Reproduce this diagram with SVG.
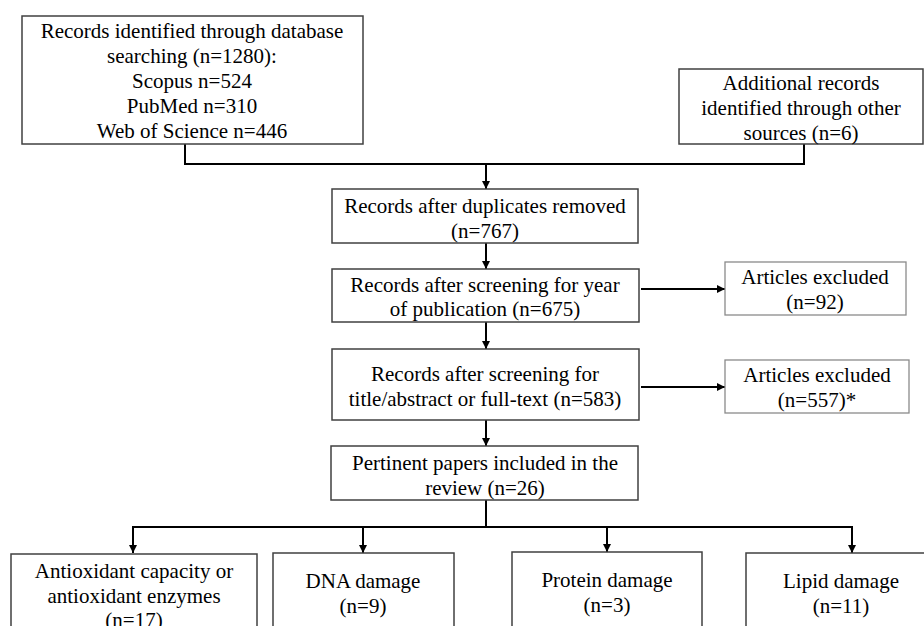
<svg xmlns="http://www.w3.org/2000/svg" width="924" height="626" viewBox="0 0 924 626">
<style>
.box{fill:#fff;stroke:#404040;stroke-width:1.5}
.lbox{fill:#fff;stroke:#8a8a8a;stroke-width:1.3}
.t{font-family:"Liberation Serif","Times New Roman",serif;font-size:21px;fill:#000;text-anchor:middle}
.c{fill:none;stroke:#000;stroke-width:2}
</style>
<defs>
<marker id="ah" viewBox="0 0 10 10" refX="10" refY="5" markerWidth="4" markerHeight="4" orient="auto" markerUnits="strokeWidth">
<path d="M0,0 L10,5 L0,10 z" fill="#000"/>
</marker>
</defs>
<rect width="924" height="626" fill="#fff"/>
<g id="connectors">
<path class="c" d="M185,144 V164 H804 V144"/>
<path class="c" d="M486,164 V189" marker-end="url(#ah)"/>
<path class="c" d="M486,243 V269" marker-end="url(#ah)"/>
<path class="c" d="M486,322 V349" marker-end="url(#ah)"/>
<path class="c" d="M486,420 V446" marker-end="url(#ah)"/>
<path class="c" d="M641,289 H725" marker-end="url(#ah)"/>
<path class="c" d="M641,387 H725" marker-end="url(#ah)"/>
<path class="c" d="M486,500 V527"/>
<path class="c" d="M133,527 H852"/>
<path class="c" d="M133,526 V553" marker-end="url(#ah)"/>
<path class="c" d="M363,526 V553" marker-end="url(#ah)"/>
<path class="c" d="M607,526 V552" marker-end="url(#ah)"/>
<path class="c" d="M852,526 V553" marker-end="url(#ah)"/>
</g>
<g id="n1">
<rect class="box" x="22" y="16" width="341" height="128"/>
<text class="t" x="192" y="38">Records identified through database</text>
<text class="t" x="192" y="63">searching (n=1280):</text>
<text class="t" x="192" y="88">Scopus n=524</text>
<text class="t" x="192" y="113">PubMed n=310</text>
<text class="t" x="192" y="138">Web of Science n=446</text>
</g>
<g id="n2">
<rect class="box" x="679" y="69" width="244" height="75"/>
<text class="t" x="801" y="90">Additional records</text>
<text class="t" x="801" y="115">identified through other</text>
<text class="t" x="801" y="140">sources (n=6)</text>
</g>
<g id="n3">
<rect class="box" x="332" y="189" width="306" height="54"/>
<text class="t" x="485" y="213">Records after duplicates removed</text>
<text class="t" x="485" y="238">(n=767)</text>
</g>
<g id="n4">
<rect class="box" x="332" y="269" width="307" height="53"/>
<text class="t" x="485" y="292">Records after screening for year</text>
<text class="t" x="485" y="316">of publication (n=675)</text>
</g>
<g id="n5">
<rect class="lbox" x="725" y="262" width="181" height="53"/>
<text class="t" x="815" y="284">Articles excluded</text>
<text class="t" x="815" y="309">(n=92)</text>
</g>
<g id="n6">
<rect class="box" x="332" y="349" width="307" height="71"/>
<text class="t" x="485" y="381">Records after screening for</text>
<text class="t" x="485" y="406">title/abstract or full-text (n=583)</text>
</g>
<g id="n7">
<rect class="lbox" x="725" y="360" width="184" height="53"/>
<text class="t" x="817" y="382">Articles excluded</text>
<text class="t" x="817" y="407">(n=557)*</text>
</g>
<g id="n8">
<rect class="box" x="331" y="446" width="307" height="54"/>
<text class="t" x="485" y="470">Pertinent papers included in the</text>
<text class="t" x="485" y="495">review (n=26)</text>
</g>
<g id="n9">
<rect class="box" x="11" y="554" width="246" height="80"/>
<text class="t" x="134" y="578">Antioxidant capacity or</text>
<text class="t" x="134" y="603">antioxidant enzymes</text>
<text class="t" x="134" y="627">(n=17)</text>
</g>
<g id="n10">
<rect class="box" x="273" y="553" width="181" height="80"/>
<text class="t" x="363" y="588">DNA damage</text>
<text class="t" x="363" y="613">(n=9)</text>
</g>
<g id="n11">
<rect class="box" x="512" y="552" width="190" height="80"/>
<text class="t" x="607" y="587">Protein damage</text>
<text class="t" x="607" y="612">(n=3)</text>
</g>
<g id="n12">
<rect class="box" x="746" y="553" width="190" height="80"/>
<text class="t" x="841" y="588">Lipid damage</text>
<text class="t" x="841" y="613">(n=11)</text>
</g>
</svg>
